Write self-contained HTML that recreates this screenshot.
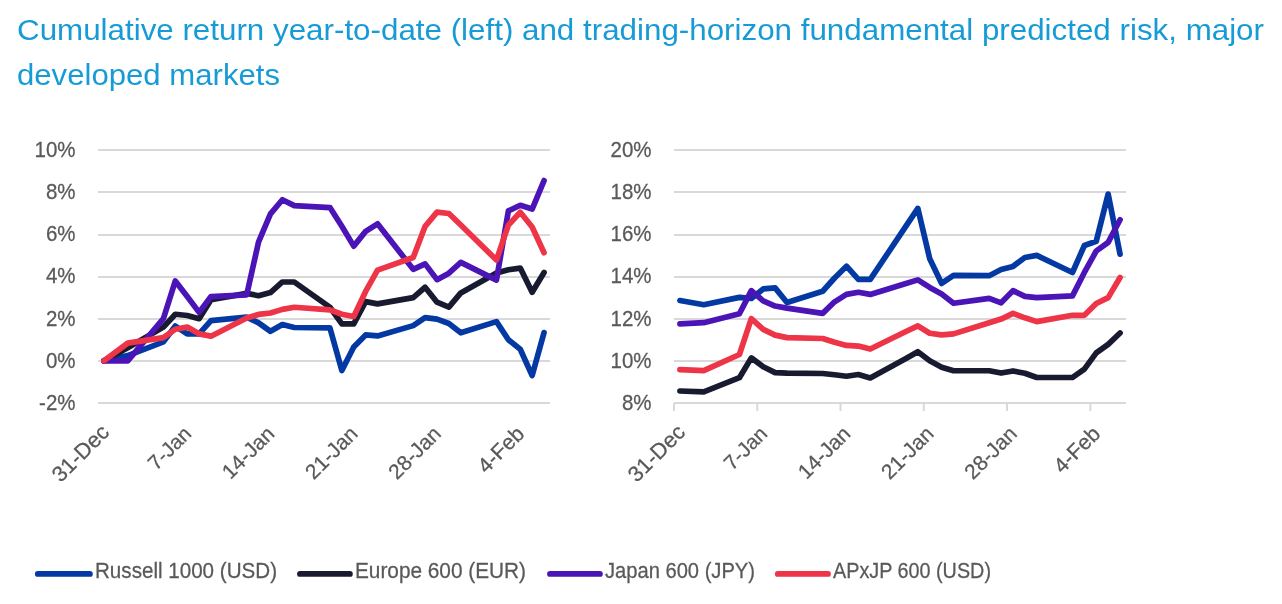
<!DOCTYPE html>
<html><head><meta charset="utf-8"><style>
html,body{margin:0;padding:0;background:#fff;width:1282px;height:604px;overflow:hidden}
svg{display:block;will-change:transform}
text{font-family:"Liberation Sans", sans-serif}
.ax{font-size:20.5px;fill:#595959;stroke:#595959;stroke-width:0.25px}
.lg{font-size:20.5px;fill:#595959;stroke:#595959;stroke-width:0.25px}
.tt{font-size:30px;fill:#179BD7}
</style></head><body>
<svg width="1282" height="604" viewBox="0 0 1282 604">
<text x="17" y="40" class="tt" textLength="1247" lengthAdjust="spacingAndGlyphs">Cumulative return year-to-date (left) and trading-horizon fundamental predicted risk, major</text>
<text x="17" y="84.8" class="tt" textLength="263" lengthAdjust="spacingAndGlyphs">developed markets</text>
<rect x="98" y="402" width="452" height="2" fill="#D9D9D9"/>
<text transform="translate(75.5,409.90) scale(1,1.1)" text-anchor="end" class="ax">-2%</text>
<rect x="98" y="360" width="452" height="2" fill="#D9D9D9"/>
<text transform="translate(75.5,367.73) scale(1,1.1)" text-anchor="end" class="ax">0%</text>
<rect x="98" y="318" width="452" height="2" fill="#D9D9D9"/>
<text transform="translate(75.5,325.57) scale(1,1.1)" text-anchor="end" class="ax">2%</text>
<rect x="98" y="276" width="452" height="2" fill="#D9D9D9"/>
<text transform="translate(75.5,283.40) scale(1,1.1)" text-anchor="end" class="ax">4%</text>
<rect x="98" y="234" width="452" height="2" fill="#D9D9D9"/>
<text transform="translate(75.5,241.23) scale(1,1.1)" text-anchor="end" class="ax">6%</text>
<rect x="98" y="191" width="452" height="2" fill="#D9D9D9"/>
<text transform="translate(75.5,199.07) scale(1,1.1)" text-anchor="end" class="ax">8%</text>
<rect x="98" y="149" width="452" height="2" fill="#D9D9D9"/>
<text transform="translate(75.5,156.90) scale(1,1.1)" text-anchor="end" class="ax">10%</text>
<text transform="translate(110.55,433.50) rotate(-45) scale(1.065)" text-anchor="end" class="ax">31-Dec</text>
<text transform="translate(192.51,435.00) rotate(-45) scale(1.0)" text-anchor="end" class="ax">7-Jan</text>
<text transform="translate(275.77,435.00) rotate(-45) scale(1.02)" text-anchor="end" class="ax">14-Jan</text>
<text transform="translate(359.04,435.00) rotate(-45) scale(1.025)" text-anchor="end" class="ax">21-Jan</text>
<text transform="translate(442.30,435.00) rotate(-45) scale(1.025)" text-anchor="end" class="ax">28-Jan</text>
<text transform="translate(525.56,435.00) rotate(-45) scale(1.04)" text-anchor="end" class="ax">4-Feb</text>
<polyline points="103.95,360.83 127.74,355.56 163.42,341.86 175.32,326.05 187.21,333.85 199.11,333.85 211.00,320.56 246.68,317.19 258.58,322.88 270.47,331.32 282.37,324.57 294.26,327.52 329.95,327.94 341.84,370.53 353.74,346.92 365.63,334.90 377.53,335.96 413.21,325.62 425.11,317.61 437.00,319.09 448.89,323.52 460.79,332.79 496.47,321.62 508.37,339.75 520.26,349.24 532.16,375.59 544.05,332.58" fill="none" stroke="#0439A3" stroke-width="5.7" stroke-linejoin="round" stroke-linecap="round"/>
<polyline points="103.95,360.83 127.74,347.76 163.42,327.10 175.32,314.24 187.21,315.50 199.11,318.67 211.00,299.69 246.68,293.37 258.58,295.69 270.47,292.52 282.37,281.98 294.26,281.98 329.95,307.28 341.84,323.94 353.74,323.94 365.63,301.59 377.53,303.91 413.21,297.58 425.11,287.25 437.00,302.22 448.89,307.07 460.79,292.94 496.47,272.92 508.37,269.75 520.26,268.07 532.16,292.31 544.05,272.49" fill="none" stroke="#181B30" stroke-width="5.7" stroke-linejoin="round" stroke-linecap="round"/>
<polyline points="103.95,360.83 127.74,360.83 163.42,318.67 175.32,280.93 187.21,296.53 199.11,312.34 211.00,296.53 246.68,294.84 258.58,241.92 270.47,213.88 282.37,199.76 294.26,205.66 329.95,207.56 341.84,226.32 353.74,246.14 365.63,231.38 377.53,223.79 413.21,269.33 425.11,263.85 437.00,279.66 448.89,273.13 460.79,262.37 496.47,280.08 508.37,210.93 520.26,205.24 532.16,209.03 544.05,180.57" fill="none" stroke="#4A14B6" stroke-width="5.7" stroke-linejoin="round" stroke-linecap="round"/>
<polyline points="103.95,360.83 127.74,343.12 163.42,337.64 175.32,329.21 187.21,327.10 199.11,333.85 211.00,336.17 246.68,318.03 258.58,314.45 270.47,312.97 282.37,309.39 294.26,307.28 329.95,309.81 341.84,314.24 353.74,316.56 365.63,291.47 377.53,270.17 413.21,257.52 425.11,226.32 437.00,212.20 448.89,213.46 460.79,225.06 496.47,260.05 508.37,225.06 520.26,212.20 532.16,226.95 544.05,252.68" fill="none" stroke="#EE3447" stroke-width="5.7" stroke-linejoin="round" stroke-linecap="round"/>
<rect x="674" y="402" width="452" height="2" fill="#D9D9D9"/>
<text transform="translate(651.5,409.90) scale(1,1.1)" text-anchor="end" class="ax">8%</text>
<rect x="674" y="360" width="452" height="2" fill="#D9D9D9"/>
<text transform="translate(651.5,367.73) scale(1,1.1)" text-anchor="end" class="ax">10%</text>
<rect x="674" y="318" width="452" height="2" fill="#D9D9D9"/>
<text transform="translate(651.5,325.57) scale(1,1.1)" text-anchor="end" class="ax">12%</text>
<rect x="674" y="276" width="452" height="2" fill="#D9D9D9"/>
<text transform="translate(651.5,283.40) scale(1,1.1)" text-anchor="end" class="ax">14%</text>
<rect x="674" y="234" width="452" height="2" fill="#D9D9D9"/>
<text transform="translate(651.5,241.23) scale(1,1.1)" text-anchor="end" class="ax">16%</text>
<rect x="674" y="191" width="452" height="2" fill="#D9D9D9"/>
<text transform="translate(651.5,199.07) scale(1,1.1)" text-anchor="end" class="ax">18%</text>
<rect x="674" y="149" width="452" height="2" fill="#D9D9D9"/>
<text transform="translate(651.5,156.90) scale(1,1.1)" text-anchor="end" class="ax">20%</text>
<rect x="673.00" y="403.0" width="2" height="8" fill="#D9D9D9"/>
<rect x="756.26" y="403.0" width="2" height="8" fill="#D9D9D9"/>
<rect x="839.53" y="403.0" width="2" height="8" fill="#D9D9D9"/>
<rect x="922.79" y="403.0" width="2" height="8" fill="#D9D9D9"/>
<rect x="1006.05" y="403.0" width="2" height="8" fill="#D9D9D9"/>
<rect x="1089.32" y="403.0" width="2" height="8" fill="#D9D9D9"/>
<text transform="translate(686.55,433.50) rotate(-45) scale(1.065)" text-anchor="end" class="ax">31-Dec</text>
<text transform="translate(768.51,435.00) rotate(-45) scale(1.0)" text-anchor="end" class="ax">7-Jan</text>
<text transform="translate(851.77,435.00) rotate(-45) scale(1.02)" text-anchor="end" class="ax">14-Jan</text>
<text transform="translate(935.04,435.00) rotate(-45) scale(1.025)" text-anchor="end" class="ax">21-Jan</text>
<text transform="translate(1018.30,435.00) rotate(-45) scale(1.025)" text-anchor="end" class="ax">28-Jan</text>
<text transform="translate(1101.56,435.00) rotate(-45) scale(1.04)" text-anchor="end" class="ax">4-Feb</text>
<polyline points="679.95,300.54 703.74,304.75 739.42,297.37 751.32,298.43 763.21,288.94 775.11,287.88 787.00,302.43 822.68,291.26 834.58,277.98 846.47,266.17 858.37,279.45 870.26,279.45 905.95,226.11 917.84,208.40 929.74,258.79 941.63,283.46 953.53,275.45 989.21,275.66 1001.11,269.54 1013.00,266.38 1024.89,257.52 1036.79,255.42 1072.47,272.49 1084.37,245.51 1096.26,241.29 1108.16,194.06 1120.05,254.15" fill="none" stroke="#0439A3" stroke-width="5.7" stroke-linejoin="round" stroke-linecap="round"/>
<polyline points="679.95,390.98 703.74,391.83 739.42,377.70 751.32,357.88 763.21,366.74 775.11,372.64 787.00,373.06 822.68,373.48 834.58,374.75 846.47,376.22 858.37,374.54 870.26,377.91 905.95,358.51 917.84,351.77 929.74,360.83 941.63,367.16 953.53,370.74 989.21,370.74 1001.11,373.06 1013.00,370.95 1024.89,373.27 1036.79,377.49 1072.47,377.49 1084.37,369.06 1096.26,352.82 1108.16,344.39 1120.05,333.00" fill="none" stroke="#181B30" stroke-width="5.7" stroke-linejoin="round" stroke-linecap="round"/>
<polyline points="679.95,323.94 703.74,322.67 739.42,313.82 751.32,290.63 763.21,300.96 775.11,306.02 787.00,308.12 822.68,313.40 834.58,301.80 846.47,294.42 858.37,292.31 870.26,294.42 905.95,283.46 917.84,279.87 929.74,287.46 941.63,294.00 953.53,303.28 989.21,298.43 1001.11,302.85 1013.00,290.63 1024.89,296.32 1036.79,297.58 1072.47,295.90 1084.37,272.49 1096.26,250.99 1108.16,242.35 1120.05,219.79" fill="none" stroke="#4A14B6" stroke-width="5.7" stroke-linejoin="round" stroke-linecap="round"/>
<polyline points="679.95,369.69 703.74,370.53 739.42,354.51 751.32,318.67 763.21,329.42 775.11,335.11 787.00,337.64 822.68,338.49 834.58,342.28 846.47,345.44 858.37,346.07 870.26,349.03 905.95,331.53 917.84,325.84 929.74,333.21 941.63,334.90 953.53,333.85 989.21,322.67 1001.11,319.09 1013.00,313.40 1024.89,317.82 1036.79,321.62 1072.47,315.29 1084.37,315.29 1096.26,303.49 1108.16,297.58 1120.05,277.55" fill="none" stroke="#EE3447" stroke-width="5.7" stroke-linejoin="round" stroke-linecap="round"/>
<line x1="37.8" y1="573.9" x2="89.9" y2="573.9" stroke="#0439A3" stroke-width="5.8" stroke-linecap="round"/>
<text transform="translate(95,578.0) scale(1,1.1)" class="lg" textLength="182" lengthAdjust="spacingAndGlyphs">Russell 1000 (USD)</text>
<line x1="300.0" y1="573.9" x2="349.9" y2="573.9" stroke="#181B30" stroke-width="5.8" stroke-linecap="round"/>
<text transform="translate(355,578.0) scale(1,1.1)" class="lg" textLength="171" lengthAdjust="spacingAndGlyphs">Europe 600 (EUR)</text>
<line x1="550.0" y1="573.9" x2="599.9" y2="573.9" stroke="#4A14B6" stroke-width="5.8" stroke-linecap="round"/>
<text transform="translate(605,578.0) scale(1,1.1)" class="lg" textLength="150" lengthAdjust="spacingAndGlyphs">Japan 600 (JPY)</text>
<line x1="777.8" y1="573.9" x2="828.0" y2="573.9" stroke="#EE3447" stroke-width="5.8" stroke-linecap="round"/>
<text transform="translate(833,578.0) scale(1,1.1)" class="lg" textLength="158" lengthAdjust="spacingAndGlyphs">APxJP 600 (USD)</text>
</svg>
</body></html>
